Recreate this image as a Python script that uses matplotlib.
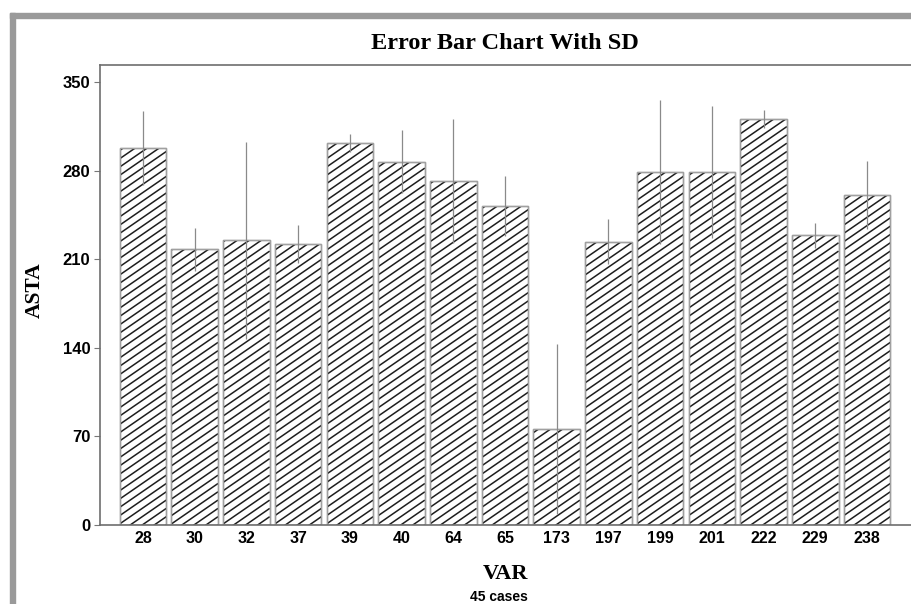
# Error bar chart with SD, rebuilt from a scanned figure

import matplotlib
matplotlib.use("Agg")
import matplotlib.pyplot as plt
import matplotlib.patches as mpatches
from matplotlib.collections import LineCollection

categories = ["28", "30", "32", "37", "39", "40", "64", "65", "173",
              "197", "199", "201", "222", "229", "238"]
means = [298, 218, 225, 222, 302, 287, 272, 252, 76,
         224, 279, 279, 321, 229, 261]
sds = [29, 17, 78, 15, 7, 25, 49, 24, 67,
       18, 57, 52, 7, 10, 27]
yticks = [0, 70, 140, 210, 280, 350]


def hatch_bar(ax, rect, slope_px=0.69, gap_px=8.3):
    # shallow diagonal hatch like the scanned original, clipped to the bar
    xl, yl = ax.get_xlim(), ax.get_ylim()
    sx = ax.bbox.width / (xl[1] - xl[0])
    sy = ax.bbox.height / (yl[1] - yl[0])
    x0, w, h = rect.get_x(), rect.get_width(), rect.get_height()
    rise = slope_px * sx / sy * w
    gap = gap_px / sy
    segs = []
    c = -rise
    while c < h:
        segs.append([(x0, c), (x0 + w, c + rise)])
        c += gap
    lc = LineCollection(segs, colors="#1e1e1e", linewidths=1.1, zorder=2.2)
    ax.add_collection(lc)
    lc.set_clip_path(rect)


def main():
    fig = plt.figure(figsize=(9.12, 6.04), dpi=100)
    ax = fig.add_axes([0.1096, 0.1308, 0.921, 0.7616])
    ax.set_xlim(-0.832, 15.41)
    ax.set_ylim(0, 363.5)

    x = list(range(len(categories)))
    bars = ax.bar(x, means, width=0.9, color="white", edgecolor="#a0a0a0",
                  linewidth=1.0, zorder=2)
    for b in bars:
        hatch_bar(ax, b)
    ax.bar(x, means, width=0.9, fill=False, edgecolor="#a0a0a0",
           linewidth=1.0, zorder=2.5)
    ax.errorbar(x, means, yerr=sds, fmt="none", ecolor="#8a8a8a",
                elinewidth=0.9, capsize=0, zorder=3)

    ax.set_xlim(-0.832, 15.41)
    ax.set_ylim(0, 363.5)
    ax.set_yticks(yticks)
    ax.set_xticks(x)
    ax.set_xticklabels(categories)
    ax.tick_params(axis="x", length=0, pad=4, labelsize=11.5)
    ax.tick_params(axis="y", length=4, color="#777777", width=0.8,
                   pad=3, labelsize=12)
    for lab in ax.get_xticklabels() + ax.get_yticklabels():
        lab.set_family("Liberation Sans")
        lab.set_fontweight("bold")
    for s in ax.spines.values():
        s.set_color("#6e6e6e")
        s.set_linewidth(1.2)

    fig.text(0.554, 0.928, "Error Bar Chart With SD", ha="center", va="center",
             family="Liberation Serif", fontweight="bold", fontsize=17.5)
    fig.text(0.038, 0.52, "ASTA", rotation=90, ha="center", va="center",
             family="Liberation Serif", fontweight="bold", fontsize=15.5)
    fig.text(0.554, 0.049, "VAR", ha="center", va="center",
             family="Liberation Serif", fontweight="bold", fontsize=16)
    fig.text(0.547, 0.012, "45 cases", ha="center", va="center",
             family="Liberation Sans", fontweight="bold", fontsize=10)

    # scanned page frame, top and left edges
    fig.patches.append(mpatches.Rectangle((10 / 912, 1 - 18 / 604), 1, 5 / 604,
                                          transform=fig.transFigure,
                                          color="#9a9a9a", zorder=0))
    fig.patches.append(mpatches.Rectangle((10 / 912, 0), 5 / 912, 1 - 13 / 604,
                                          transform=fig.transFigure,
                                          color="#9a9a9a", zorder=0))

    fig.savefig("out.png", dpi=100)


if __name__ == "__main__":
    main()
